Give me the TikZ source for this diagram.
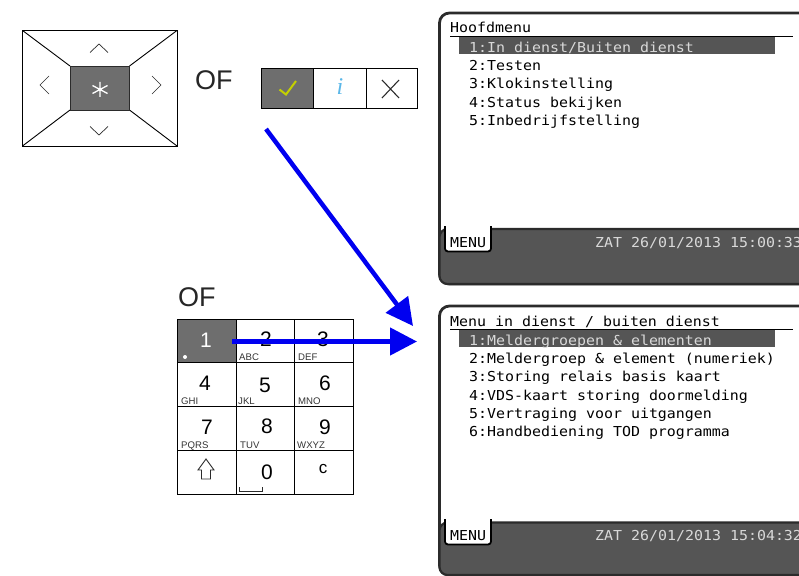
\documentclass[tikz,border=0pt]{standalone}
\usepackage{fontspec}
\setmainfont{Liberation Sans}
\newfontfamily\lcd[FakeStretch=1.09]{DejaVu Sans Mono}
\newfontfamily\serifi{Liberation Serif}
\usetikzlibrary{arrows.meta}
\definecolor{keygray}{HTML}{6E6E6E}
\definecolor{footgray}{HTML}{555555}
\definecolor{edge}{HTML}{2B2B2B}
\definecolor{okgreen}{HTML}{C4D000}
\definecolor{infoblue}{HTML}{5BB7E8}
\definecolor{flowblue}{HTML}{0000F0}
\tikzset{
  keyline/.style={draw=black,line width=0.9pt},
  chev/.style={draw=edge,line width=0.7pt},
  bigof/.style={anchor=base west,inner sep=0,font=\fontsize{27}{27}\selectfont,text=black!85},
  digit/.style={inner sep=0,font=\fontsize{21}{21}\selectfont},
  sub/.style={anchor=base west,inner sep=0,font=\fontsize{9.6}{10}\selectfont,text=black!80},
  lcdtext/.style={anchor=base west,inner sep=0,font=\lcd\fontsize{13.7}{14}\selectfont},
  screen/.style={draw=edge,line width=2.8pt,fill=white,rounded corners=10pt},
  foot/.style={draw=edge,line width=2.2pt,fill=footgray,rounded corners=8pt},
  tabbox/.style={draw=black,line width=1.8pt,fill=white,rounded corners=3pt},
  hilite/.style={fill=footgray,draw=none},
  flow/.style={draw=flowblue,line width=4.5pt,-{Triangle[length=27pt,width=27pt]}},
}
\begin{document}
\begin{tikzpicture}[x=1pt,y=-1pt]
\useasboundingbox (0,0) rectangle (799,575);
\clip (0,0) rectangle (799,575);
% D-pad
\draw[keyline,fill=white] (22.5,30.5) rectangle (177,146);
\draw[keyline] (22.5,30.5) -- (70,66) (177,30.5) -- (129.5,66) (22.5,146) -- (70,110) (177,146) -- (129.5,110);
\draw[keyline,fill=keygray,draw=edge] (70,66) rectangle (129.5,110);
\draw[chev] (90,52.5) -- (99,44) -- (108,52.5);
\draw[chev] (90,126.5) -- (99,135) -- (108,126.5);
\draw[chev] (49,76) -- (40,85) -- (49,94);
\draw[chev] (152,76) -- (161,85) -- (152,94);
\draw[white,line width=1.3pt] (100,82) -- (100,97) (92.5,85.5) -- (107.5,93.5) (92.5,93.5) -- (107.5,85.5);
\node[bigof] (of1) at (195,90) {OF};
% Buttons
\draw[keyline,fill=keygray] (261.5,68.5) rectangle (313.5,108);
\draw[keyline] (313.5,68.5) rectangle (366,108);
\draw[keyline] (366,68.5) rectangle (417.5,108);
\draw[okgreen,line width=2pt] (279.5,89.5) -- (286,94.5) -- (296,81);
\node[inner sep=0,text=infoblue,font=\serifi\itshape\fontsize{24}{24}\selectfont] (infoi) at (340,87) {i};
\draw[edge,line width=1.1pt] (382,80) -- (399,98) (399,80) -- (382,98);
% Keypad
\node[bigof] (of2) at (178,306.5) {OF};
\fill[keygray] (177.5,319) rectangle (236,362.5);
\draw[keyline] (177.5,319) rectangle (353,494.5);
\draw[keyline] (236,319) -- (236,494.5) (294.5,319) -- (294.5,494.5);
\draw[keyline] (177.5,362.5) -- (353,362.5) (177.5,406.5) -- (353,406.5) (177.5,450.5) -- (353,450.5);
\node[digit,text=white] (k1) at (206,340) {1};
\node[digit] (k2) at (266,339) {2};
\node[digit] (k3) at (323,339) {3};
\node[digit] (k4) at (205,383) {4};
\node[digit] (k5) at (265,385) {5};
\node[digit] (k6) at (325,383) {6};
\node[digit] (k7) at (207,427) {7};
\node[digit] (k8) at (267,426) {8};
\node[digit] (k9) at (325,427) {9};
\node[digit] (k0) at (267,472) {0};
\node[inner sep=0,font=\fontsize{17}{17}\selectfont] (kc) at (323,469) {c};
\fill[white] (185,357) circle (2pt);
\node[sub] (ta) at (239,360) {ABC};
\node[sub] (td) at (298,360) {DEF};
\node[sub] (tg) at (181,404) {GHI};
\node[sub] (tj) at (238,404) {JKL};
\node[sub] (tm) at (298,404) {MNO};
\node[sub] (tp) at (181,448) {PQRS};
\node[sub] (tt) at (240,448) {TUV};
\node[sub] (tw) at (297,448) {WXYZ};
\draw[edge,line width=0.9pt,line join=miter] (206,459) -- (214,470) -- (210.5,470) -- (210.5,479) -- (201.5,479) -- (201.5,470) -- (198,470) -- cycle;
\draw[edge,line width=0.8pt] (239,487) -- (239,491) -- (262,491) -- (262,487);
% Screen 1
\draw[screen] (439.5,13) rectangle (812,284);
\draw[foot] (439.5,229) -- (812,229) -- (812,284) -- (439.5,284) -- cycle;
\draw[tabbox] (445,226) -- (445,251.5) -- (491,251.5) -- (491,226);
\fill[white] (446,226) rectangle (490,231);
\draw[black,line width=0.8pt] (450,36) -- (793,36);
\node[lcdtext] (h0) at (450,33) {Hoofdmenu};
\fill[hilite] (459,37) rectangle (775,54);
\node[lcdtext,text=white!85!black] (h1) at (469,52.5) {1:In dienst/Buiten dienst};
\node[lcdtext] (h2) at (469,70.7) {2:Testen};
\node[lcdtext] (h3) at (469,88.9) {3:Klokinstelling};
\node[lcdtext] (h4) at (469,107) {4:Status bekijken};
\node[lcdtext] (h5) at (469,125) {5:Inbedrijfstelling};
\node[lcdtext] (m0) at (450,247) {MENU};
\node[lcdtext,text=white!85!black] (d0) at (595,247) {ZAT 26/01/2013 15:00:33};
% Screen 2
\draw[screen] (439.5,306) rectangle (812,575);
\draw[foot] (439.5,522.5) -- (812,522.5) -- (812,575) -- (439.5,575) -- cycle;
\draw[tabbox] (445,519) -- (445,544.5) -- (491,544.5) -- (491,519);
\fill[white] (446,519) rectangle (490,524);
\draw[black,line width=0.8pt] (450,329) -- (793,329);
\node[lcdtext] (s0) at (450,326) {Menu in dienst / buiten dienst};
\fill[hilite] (459,330) rectangle (775,347);
\node[lcdtext,text=white!85!black] (s1) at (469,345.5) {1:Meldergroepen \& elementen};
\node[lcdtext] (s2) at (469,363.7) {2:Meldergroep \& element (numeriek)};
\node[lcdtext] (s3) at (469,381.9) {3:Storing relais basis kaart};
\node[lcdtext] (s4) at (469,400) {4:VDS-kaart storing doormelding};
\node[lcdtext] (s5) at (469,418) {5:Vertraging voor uitgangen};
\node[lcdtext] (s6) at (469,436) {6:Handbediening TOD programma};
\node[lcdtext] (m1) at (450,540) {MENU};
\node[lcdtext,text=white!85!black] (d1) at (595,540) {ZAT 26/01/2013 15:04:32};
% Arrows
\coordinate (a1s) at (266,129);
\coordinate (a1e) at (413,326);
\coordinate (a2s) at (232,341.5);
\coordinate (a2e) at (417,341.5);
\draw[flow] (a1s) -- (a1e);
\draw[flow] (a2s) -- (a2e);
\end{tikzpicture}
\end{document}
